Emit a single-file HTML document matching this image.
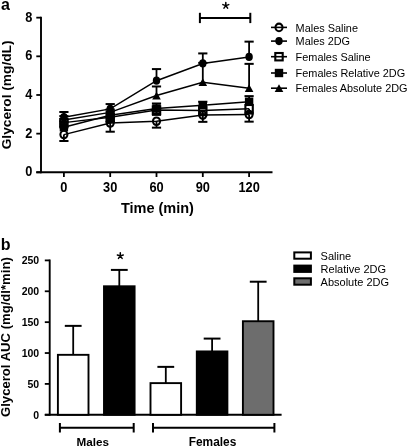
<!DOCTYPE html>
<html><head><meta charset="utf-8"><style>
html,body{margin:0;padding:0;background:#fff;}
svg{display:block;filter:grayscale(1);}
text{font-family:"Liberation Sans",sans-serif;fill:#000;}
.tk{font-size:12.8px;font-weight:bold;}
.tkb{font-size:10.5px;font-weight:bold;}
.lg{font-size:10.9px;}
.lgb{font-size:11px;}
.lab{font-weight:bold;}
</style></head><body>
<svg width="409" height="448" viewBox="0 0 409 448">
<text x="1.0" y="10.4" class="lab" style="font-size:16px">a</text>
<text x="0.7" y="249.6" class="lab" style="font-size:16px">b</text>
<!-- panel a axes -->
<line x1="41" y1="16.8" x2="41" y2="173.2" stroke="#000" stroke-width="1.9"/>
<line x1="36.3" y1="172.3" x2="272.5" y2="172.3" stroke="#000" stroke-width="1.9"/>
<line x1="36.3" y1="172.30" x2="41" y2="172.30" stroke="#000" stroke-width="1.8"/>
<text transform="translate(32.3,176.40) scale(1,1.09)" class="tk" text-anchor="end">0</text>
<line x1="36.3" y1="133.64" x2="41" y2="133.64" stroke="#000" stroke-width="1.8"/>
<text transform="translate(32.3,137.74) scale(1,1.09)" class="tk" text-anchor="end">2</text>
<line x1="36.3" y1="94.98" x2="41" y2="94.98" stroke="#000" stroke-width="1.8"/>
<text transform="translate(32.3,99.08) scale(1,1.09)" class="tk" text-anchor="end">4</text>
<line x1="36.3" y1="56.32" x2="41" y2="56.32" stroke="#000" stroke-width="1.8"/>
<text transform="translate(32.3,60.42) scale(1,1.09)" class="tk" text-anchor="end">6</text>
<line x1="36.3" y1="17.66" x2="41" y2="17.66" stroke="#000" stroke-width="1.8"/>
<text transform="translate(32.3,21.76) scale(1,1.09)" class="tk" text-anchor="end">8</text>
<line x1="63.90" y1="172.3" x2="63.90" y2="177" stroke="#000" stroke-width="1.8"/>
<text transform="translate(63.90,192.2) scale(1,1.09)" class="tk" text-anchor="middle">0</text>
<line x1="110.20" y1="172.3" x2="110.20" y2="177" stroke="#000" stroke-width="1.8"/>
<text transform="translate(110.20,192.2) scale(1,1.09)" class="tk" text-anchor="middle">30</text>
<line x1="156.50" y1="172.3" x2="156.50" y2="177" stroke="#000" stroke-width="1.8"/>
<text transform="translate(156.50,192.2) scale(1,1.09)" class="tk" text-anchor="middle">60</text>
<line x1="202.80" y1="172.3" x2="202.80" y2="177" stroke="#000" stroke-width="1.8"/>
<text transform="translate(202.80,192.2) scale(1,1.09)" class="tk" text-anchor="middle">90</text>
<line x1="249.10" y1="172.3" x2="249.10" y2="177" stroke="#000" stroke-width="1.8"/>
<text transform="translate(249.10,192.2) scale(1,1.09)" class="tk" text-anchor="middle">120</text>
<text class="lab" style="font-size:14.5px" x="157.4" y="213.3" text-anchor="middle">Time (min)</text>
<text class="lab" style="font-size:13.7px" transform="translate(11.3,94.9) rotate(-90)" text-anchor="middle">Glycerol (mg/dL)</text>
<!-- significance -->
<line x1="199.9" y1="18" x2="250.3" y2="18" stroke="#000" stroke-width="2"/>
<line x1="199.9" y1="12.8" x2="199.9" y2="23.1" stroke="#000" stroke-width="2"/>
<line x1="250.3" y1="12.8" x2="250.3" y2="23.1" stroke="#000" stroke-width="2"/>
<path d="M225.80 5.60L225.80 2.50M225.80 5.60L228.75 4.64M225.80 5.60L227.62 8.11M225.80 5.60L223.98 8.11M225.80 5.60L222.85 4.64" stroke="#000" stroke-width="1.5" stroke-linecap="round" fill="none"/>
<polyline points="63.90,134.61 110.20,123.01 156.50,121.27 202.80,115.08 249.10,114.50" fill="none" stroke="#000" stroke-width="1.5"/>
<polyline points="63.90,122.62 110.20,117.21 156.50,110.06 202.80,110.44 249.10,108.70" fill="none" stroke="#000" stroke-width="1.5"/>
<polyline points="63.90,127.26 110.20,115.28 156.50,108.51 202.80,105.22 249.10,101.75" fill="none" stroke="#000" stroke-width="1.5"/>
<polyline points="63.90,119.92 110.20,112.38 156.50,95.56 202.80,82.22 249.10,88.21" fill="none" stroke="#000" stroke-width="1.5"/>
<polyline points="63.90,117.21 110.20,108.90 156.50,80.68 202.80,63.47 249.10,56.90" fill="none" stroke="#000" stroke-width="1.5"/>
<line x1="63.90" y1="134.61" x2="63.90" y2="140.99" stroke="#000" stroke-width="1.8"/>
<line x1="59.30" y1="140.99" x2="68.50" y2="140.99" stroke="#000" stroke-width="2"/>
<line x1="110.20" y1="123.01" x2="110.20" y2="131.71" stroke="#000" stroke-width="1.8"/>
<line x1="105.60" y1="131.71" x2="114.80" y2="131.71" stroke="#000" stroke-width="2"/>
<line x1="156.50" y1="121.27" x2="156.50" y2="127.65" stroke="#000" stroke-width="1.8"/>
<line x1="151.90" y1="127.65" x2="161.10" y2="127.65" stroke="#000" stroke-width="2"/>
<line x1="202.80" y1="115.08" x2="202.80" y2="121.85" stroke="#000" stroke-width="1.8"/>
<line x1="198.20" y1="121.85" x2="207.40" y2="121.85" stroke="#000" stroke-width="2"/>
<line x1="249.10" y1="114.50" x2="249.10" y2="121.66" stroke="#000" stroke-width="1.8"/>
<line x1="244.50" y1="121.66" x2="253.70" y2="121.66" stroke="#000" stroke-width="2"/>
<line x1="63.90" y1="122.62" x2="63.90" y2="127.45" stroke="#000" stroke-width="1.8"/>
<line x1="59.30" y1="127.45" x2="68.50" y2="127.45" stroke="#000" stroke-width="2"/>
<line x1="110.20" y1="117.21" x2="110.20" y2="122.04" stroke="#000" stroke-width="1.8"/>
<line x1="105.60" y1="122.04" x2="114.80" y2="122.04" stroke="#000" stroke-width="2"/>
<line x1="156.50" y1="110.06" x2="156.50" y2="114.89" stroke="#000" stroke-width="1.8"/>
<line x1="151.90" y1="114.89" x2="161.10" y2="114.89" stroke="#000" stroke-width="2"/>
<line x1="202.80" y1="110.44" x2="202.80" y2="115.28" stroke="#000" stroke-width="1.8"/>
<line x1="198.20" y1="115.28" x2="207.40" y2="115.28" stroke="#000" stroke-width="2"/>
<line x1="249.10" y1="108.70" x2="249.10" y2="113.54" stroke="#000" stroke-width="1.8"/>
<line x1="244.50" y1="113.54" x2="253.70" y2="113.54" stroke="#000" stroke-width="2"/>
<line x1="63.90" y1="127.26" x2="63.90" y2="121.46" stroke="#000" stroke-width="1.8"/>
<line x1="59.30" y1="121.46" x2="68.50" y2="121.46" stroke="#000" stroke-width="2"/>
<line x1="110.20" y1="115.28" x2="110.20" y2="111.41" stroke="#000" stroke-width="1.8"/>
<line x1="105.60" y1="111.41" x2="114.80" y2="111.41" stroke="#000" stroke-width="2"/>
<line x1="156.50" y1="108.51" x2="156.50" y2="103.49" stroke="#000" stroke-width="1.8"/>
<line x1="151.90" y1="103.49" x2="161.10" y2="103.49" stroke="#000" stroke-width="2"/>
<line x1="202.80" y1="105.22" x2="202.80" y2="101.75" stroke="#000" stroke-width="1.8"/>
<line x1="198.20" y1="101.75" x2="207.40" y2="101.75" stroke="#000" stroke-width="2"/>
<line x1="249.10" y1="101.75" x2="249.10" y2="96.14" stroke="#000" stroke-width="1.8"/>
<line x1="244.50" y1="96.14" x2="253.70" y2="96.14" stroke="#000" stroke-width="2"/>
<line x1="63.90" y1="119.92" x2="63.90" y2="116.05" stroke="#000" stroke-width="1.8"/>
<line x1="59.30" y1="116.05" x2="68.50" y2="116.05" stroke="#000" stroke-width="2"/>
<line x1="110.20" y1="112.38" x2="110.20" y2="109.48" stroke="#000" stroke-width="1.8"/>
<line x1="105.60" y1="109.48" x2="114.80" y2="109.48" stroke="#000" stroke-width="2"/>
<line x1="156.50" y1="95.56" x2="156.50" y2="86.47" stroke="#000" stroke-width="1.8"/>
<line x1="151.90" y1="86.47" x2="161.10" y2="86.47" stroke="#000" stroke-width="2"/>
<line x1="202.80" y1="82.22" x2="202.80" y2="62.89" stroke="#000" stroke-width="1.8"/>
<line x1="198.20" y1="62.89" x2="207.40" y2="62.89" stroke="#000" stroke-width="2"/>
<line x1="249.10" y1="88.21" x2="249.10" y2="63.86" stroke="#000" stroke-width="1.8"/>
<line x1="244.50" y1="63.86" x2="253.70" y2="63.86" stroke="#000" stroke-width="2"/>
<line x1="63.90" y1="117.21" x2="63.90" y2="111.99" stroke="#000" stroke-width="1.8"/>
<line x1="59.30" y1="111.99" x2="68.50" y2="111.99" stroke="#000" stroke-width="2"/>
<line x1="110.20" y1="108.90" x2="110.20" y2="104.07" stroke="#000" stroke-width="1.8"/>
<line x1="105.60" y1="104.07" x2="114.80" y2="104.07" stroke="#000" stroke-width="2"/>
<line x1="156.50" y1="80.68" x2="156.50" y2="69.08" stroke="#000" stroke-width="1.8"/>
<line x1="151.90" y1="69.08" x2="161.10" y2="69.08" stroke="#000" stroke-width="2"/>
<line x1="202.80" y1="63.47" x2="202.80" y2="53.42" stroke="#000" stroke-width="1.8"/>
<line x1="198.20" y1="53.42" x2="207.40" y2="53.42" stroke="#000" stroke-width="2"/>
<line x1="249.10" y1="56.90" x2="249.10" y2="41.63" stroke="#000" stroke-width="1.8"/>
<line x1="244.50" y1="41.63" x2="253.70" y2="41.63" stroke="#000" stroke-width="2"/>
<ellipse cx="63.90" cy="134.61" rx="3.5" ry="3.8" fill="none" stroke="#000" stroke-width="2.1"/>
<ellipse cx="110.20" cy="123.01" rx="3.5" ry="3.8" fill="none" stroke="#000" stroke-width="2.1"/>
<ellipse cx="156.50" cy="121.27" rx="3.5" ry="3.8" fill="none" stroke="#000" stroke-width="2.1"/>
<ellipse cx="202.80" cy="115.08" rx="3.5" ry="3.8" fill="none" stroke="#000" stroke-width="2.1"/>
<ellipse cx="249.10" cy="114.50" rx="3.5" ry="3.8" fill="none" stroke="#000" stroke-width="2.1"/>
<rect x="60.20" y="118.92" width="7.4" height="7.4" fill="none" stroke="#000" stroke-width="2.1"/>
<rect x="106.50" y="113.51" width="7.4" height="7.4" fill="none" stroke="#000" stroke-width="2.1"/>
<rect x="152.80" y="106.36" width="7.4" height="7.4" fill="none" stroke="#000" stroke-width="2.1"/>
<rect x="199.10" y="106.74" width="7.4" height="7.4" fill="none" stroke="#000" stroke-width="2.1"/>
<rect x="245.40" y="105.00" width="7.4" height="7.4" fill="none" stroke="#000" stroke-width="2.1"/>
<rect x="59.70" y="123.06" width="8.4" height="8.4" fill="#000"/>
<rect x="106.00" y="111.08" width="8.4" height="8.4" fill="#000"/>
<rect x="152.30" y="104.31" width="8.4" height="8.4" fill="#000"/>
<rect x="198.60" y="101.02" width="8.4" height="8.4" fill="#000"/>
<rect x="244.90" y="97.55" width="8.4" height="8.4" fill="#000"/>
<path d="M63.90 116.02 L68.20 123.82 L59.60 123.82Z" fill="#000"/>
<path d="M110.20 108.48 L114.50 116.28 L105.90 116.28Z" fill="#000"/>
<path d="M156.50 91.66 L160.80 99.46 L152.20 99.46Z" fill="#000"/>
<path d="M202.80 78.32 L207.10 86.12 L198.50 86.12Z" fill="#000"/>
<path d="M249.10 84.31 L253.40 92.11 L244.80 92.11Z" fill="#000"/>
<ellipse cx="63.90" cy="117.21" rx="3.7" ry="4.1" fill="#000"/>
<ellipse cx="110.20" cy="108.90" rx="3.7" ry="4.1" fill="#000"/>
<ellipse cx="156.50" cy="80.68" rx="3.7" ry="4.1" fill="#000"/>
<ellipse cx="202.80" cy="63.47" rx="3.7" ry="4.1" fill="#000"/>
<ellipse cx="249.10" cy="56.90" rx="3.7" ry="4.1" fill="#000"/>
<line x1="271" y1="27.4" x2="287" y2="27.4" stroke="#000" stroke-width="1.6"/>
<ellipse cx="279.00" cy="27.40" rx="3.5" ry="3.8" fill="none" stroke="#000" stroke-width="2.1"/>
<text x="295.6" y="31.6" class="lg">Males Saline</text>
<line x1="271" y1="41.1" x2="287" y2="41.1" stroke="#000" stroke-width="1.6"/>
<ellipse cx="279.00" cy="41.10" rx="3.7" ry="4.1" fill="#000"/>
<text x="295.6" y="44.8" class="lg">Males 2DG</text>
<line x1="271" y1="56.7" x2="287" y2="56.7" stroke="#000" stroke-width="1.6"/>
<rect x="275.30" y="53.00" width="7.4" height="7.4" fill="none" stroke="#000" stroke-width="2.1"/>
<text x="295.6" y="60.8" class="lg">Females Saline</text>
<line x1="271" y1="73.0" x2="287" y2="73.0" stroke="#000" stroke-width="1.6"/>
<rect x="274.80" y="68.80" width="8.4" height="8.4" fill="#000"/>
<text x="295.6" y="76.6" class="lg">Females Relative 2DG</text>
<line x1="271" y1="88.2" x2="287" y2="88.2" stroke="#000" stroke-width="1.6"/>
<path d="M279.00 84.30 L283.30 92.10 L274.70 92.10Z" fill="#000"/>
<text x="295.6" y="92.0" class="lg">Females Absolute 2DG</text>
<!-- panel b -->
<line x1="49.7" y1="259.5" x2="49.7" y2="415.7" stroke="#000" stroke-width="1.9"/>
<line x1="44.8" y1="414.8" x2="281.6" y2="414.8" stroke="#000" stroke-width="1.9"/>
<line x1="73.2" y1="354.83" x2="73.2" y2="325.87" stroke="#000" stroke-width="1.8"/>
<line x1="64.8" y1="325.87" x2="81.60000000000001" y2="325.87" stroke="#000" stroke-width="2"/>
<rect x="57.900000000000006" y="354.83" width="30.6" height="59.97" fill="#fff" stroke="#000" stroke-width="1.9"/>
<line x1="119.3" y1="286.28" x2="119.3" y2="269.91" stroke="#000" stroke-width="1.8"/>
<line x1="110.89999999999999" y1="269.91" x2="127.7" y2="269.91" stroke="#000" stroke-width="2"/>
<rect x="104.0" y="286.28" width="30.6" height="128.52" fill="#000" stroke="#000" stroke-width="1.9"/>
<line x1="165.8" y1="383.12" x2="165.8" y2="366.87" stroke="#000" stroke-width="1.8"/>
<line x1="157.4" y1="366.87" x2="174.20000000000002" y2="366.87" stroke="#000" stroke-width="2"/>
<rect x="150.5" y="383.12" width="30.6" height="31.68" fill="#fff" stroke="#000" stroke-width="1.9"/>
<line x1="212.1" y1="351.43" x2="212.1" y2="338.59" stroke="#000" stroke-width="1.8"/>
<line x1="203.7" y1="338.59" x2="220.5" y2="338.59" stroke="#000" stroke-width="2"/>
<rect x="196.79999999999998" y="351.43" width="30.6" height="63.37" fill="#000" stroke="#000" stroke-width="1.9"/>
<line x1="258.2" y1="321.23" x2="258.2" y2="281.71" stroke="#000" stroke-width="1.8"/>
<line x1="249.79999999999998" y1="281.71" x2="266.59999999999997" y2="281.71" stroke="#000" stroke-width="2"/>
<rect x="242.89999999999998" y="321.23" width="30.6" height="93.57" fill="#6d6d6d" stroke="#000" stroke-width="1.9"/>
<line x1="44.8" y1="414.80" x2="49.7" y2="414.80" stroke="#000" stroke-width="1.8"/>
<text x="39.2" y="418.50" class="tkb" text-anchor="end">0</text>
<line x1="44.8" y1="383.92" x2="49.7" y2="383.92" stroke="#000" stroke-width="1.8"/>
<text x="39.2" y="387.62" class="tkb" text-anchor="end">50</text>
<line x1="44.8" y1="353.04" x2="49.7" y2="353.04" stroke="#000" stroke-width="1.8"/>
<text x="39.2" y="356.74" class="tkb" text-anchor="end">100</text>
<line x1="44.8" y1="322.16" x2="49.7" y2="322.16" stroke="#000" stroke-width="1.8"/>
<text x="39.2" y="325.86" class="tkb" text-anchor="end">150</text>
<line x1="44.8" y1="291.28" x2="49.7" y2="291.28" stroke="#000" stroke-width="1.8"/>
<text x="39.2" y="294.98" class="tkb" text-anchor="end">200</text>
<line x1="44.8" y1="260.40" x2="49.7" y2="260.40" stroke="#000" stroke-width="1.8"/>
<text x="39.2" y="264.10" class="tkb" text-anchor="end">250</text>
<path d="M120.30 255.90L120.30 252.80M120.30 255.90L123.25 254.94M120.30 255.90L122.12 258.41M120.30 255.90L118.48 258.41M120.30 255.90L117.35 254.94" stroke="#000" stroke-width="1.5" stroke-linecap="round" fill="none"/>
<line x1="59.9" y1="427.7" x2="133.7" y2="427.7" stroke="#000" stroke-width="2"/>
<line x1="59.9" y1="423" x2="59.9" y2="432.5" stroke="#000" stroke-width="2"/>
<line x1="133.7" y1="423" x2="133.7" y2="432.5" stroke="#000" stroke-width="2"/>
<line x1="153" y1="427.7" x2="274.4" y2="427.7" stroke="#000" stroke-width="2"/>
<line x1="153" y1="423" x2="153" y2="432.5" stroke="#000" stroke-width="2"/>
<line x1="274.4" y1="423" x2="274.4" y2="432.5" stroke="#000" stroke-width="2"/>
<text class="lab" style="font-size:11.7px" x="92.8" y="445.7" text-anchor="middle">Males</text>
<text class="lab" style="font-size:11.9px" x="212.5" y="446" text-anchor="middle">Females</text>
<text class="lab" style="font-size:12.2px" transform="translate(10.2,337.1) rotate(-90) scale(1.075,1)" text-anchor="middle">Glycerol AUC (mg/dl*min)</text>
<!-- legend b -->
<rect x="294.3" y="252.4" width="16.6" height="6.3" fill="#fff" stroke="#000" stroke-width="2"/>
<rect x="294.3" y="265.6" width="16.6" height="6.3" fill="#000" stroke="#000" stroke-width="2"/>
<rect x="294.3" y="278.3" width="16.6" height="6.4" fill="#6e6e6e" stroke="#000" stroke-width="2"/>
<text x="320.6" y="259.8" class="lgb">Saline</text>
<text x="320.6" y="272.9" class="lgb">Relative 2DG</text>
<text x="320.6" y="285.6" class="lgb">Absolute 2DG</text>
</svg>
</body></html>
